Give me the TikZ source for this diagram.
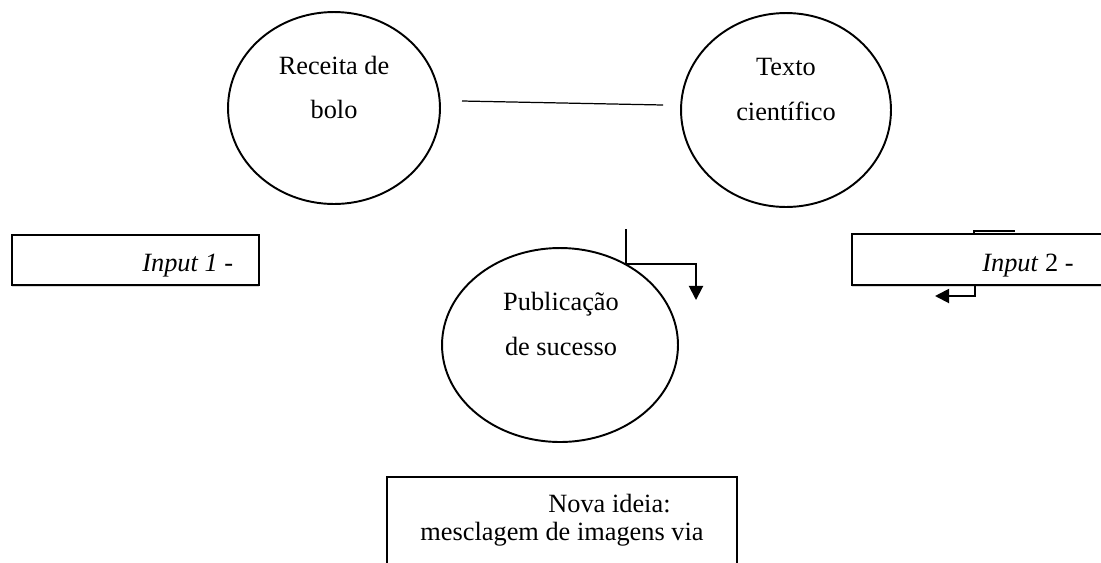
\documentclass[tikz,border=0pt]{standalone}
\usepackage{fontspec}
\setmainfont{Liberation Serif}
\usetikzlibrary{arrows.meta,positioning,shapes.geometric,shadows}

\begin{document}
\begin{tikzpicture}[x=0.02cm, y=-0.02cm, every node/.style={font=\fontsize{15}{18}\selectfont},
  bubble/.style={ellipse, draw, line width=1.1pt, inner sep=0pt},
  inbox/.style={rectangle, draw, fill=white, line width=1pt, inner sep=0pt, drop shadow={shadow xshift=0pt, shadow yshift=-1.2pt, fill=gray!60}},
  txt/.style={anchor=base, inner sep=0pt},
  arr/.style={-{Triangle[length=8pt,width=8pt]}, line width=1.1pt}]
\useasboundingbox (0,0) rectangle (1101,562);
% Bubbles
\node[bubble, minimum width=4.24cm, minimum height=3.84cm] (bolo) at (334,108) {};
\node[txt] (bolo1) at (334,74) {Receita de};
\node[txt] (bolo2) at (334,118) {bolo};
\node[bubble, minimum width=4.2cm, minimum height=3.88cm] (texto) at (786,110) {};
\node[txt] (texto1) at (786,75) {Texto};
\node[txt] (texto2) at (786,120) {científico};
\node[bubble, minimum width=4.72cm, minimum height=3.88cm] (pub) at (560,345) {};
\node[txt] (pub1) at (561,310) {Publicação};
\node[txt] (pub2) at (561,355) {de sucesso};
% Input boxes
\node[inbox, minimum width=4.94cm, minimum height=1cm] (in1) at (135.5,260) {};
\node[txt, anchor=base west] (in1txt) at (142,271) {\textit{Input 1} -};
\node[inbox, minimum width=5.36cm, minimum height=1.02cm] (in2) at (986,259.5) {};
\node[txt, anchor=base west] (in2txt) at (982,271) {\textit{Input} 2 -};
% New idea box
\node[rectangle, draw, line width=1pt, minimum width=7cm, minimum height=2.46cm] (nova) at (562,538.5) {};
\node[txt, anchor=base west] (nova1) at (548,512) {Nova ideia:};
\node[txt] (nova2) at (562,540) {mesclagem de imagens via};
% Connectors
\coordinate (l1) at (462,101);
\coordinate (l2) at (663,105);
\draw[line width=0.7pt] (l1) -- (l2);
\coordinate (p1) at (626,229);
\coordinate (p2) at (626,264);
\coordinate (p3) at (696,300);
\draw[arr] (p1) -- (p2) -| (p3);
\coordinate (q1) at (974,234);
\coordinate (q2) at (1015,231);
\draw[line width=1.1pt] (q1) |- (q2);
\coordinate (r1) at (975,285);
\coordinate (r2) at (935,296);
\draw[arr] (r1) |- (r2);
\end{tikzpicture}
\end{document}
